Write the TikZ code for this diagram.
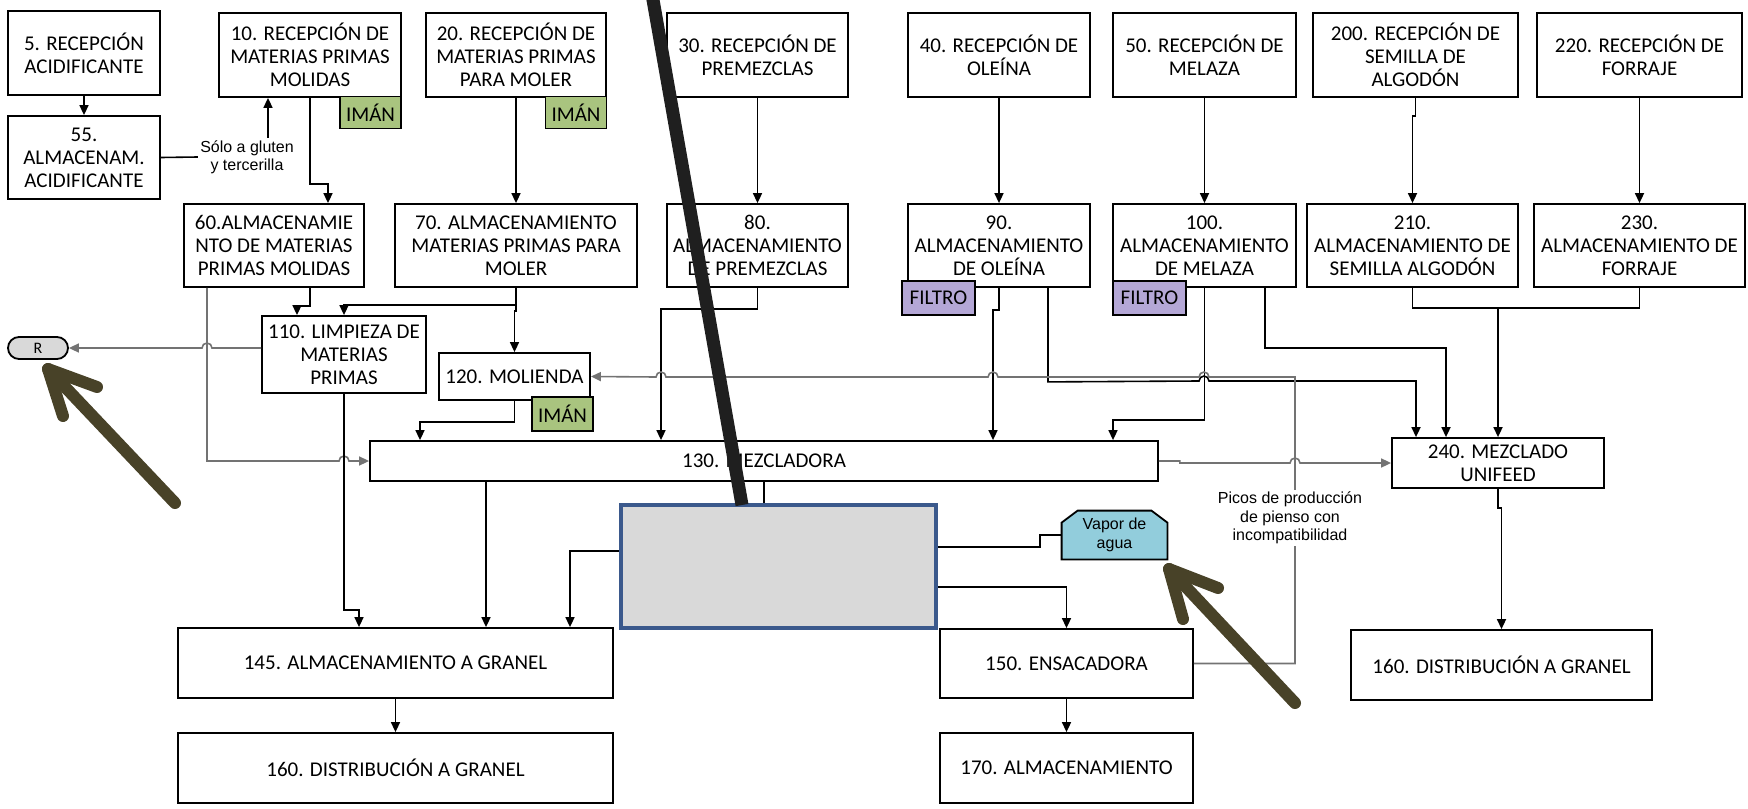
\documentclass[tikz,border=0pt]{standalone}
\usepackage{fontspec}
\setmainfont{Carlito}
\newfontfamily\arial{Liberation Sans}
\usetikzlibrary{arrows.meta,backgrounds}

\definecolor{verdeiman}{RGB}{169,196,127}
\definecolor{lilafiltro}{RGB}{180,167,214}
\definecolor{azulvapor}{RGB}{146,205,220}
\definecolor{grisclaro}{RGB}{217,217,217}
\definecolor{azulborde}{RGB}{59,89,140}
\definecolor{oliva}{RGB}{72,66,40}

\tikzset{
  caja/.style={draw, line width=0.9pt, align=center, inner sep=0pt,
    font=\fontsize{10.5}{11.5}\selectfont},
  caja alta/.style={caja, minimum height=42pt},
  iman/.style={caja, fill=verdeiman, minimum width=30.5pt, minimum height=16pt},
  filtro/.style={caja, fill=lilafiltro, minimum width=36.5pt, minimum height=17pt},
  flecha/.style={draw, line width=0.8pt, -{Triangle[length=5pt,width=4.5pt]}},
  linea/.style={draw, line width=0.8pt},
  linea gris/.style={draw=black!55},
  nota/.style={font=\arial\fontsize{8}{9.2}\selectfont, align=center, fill=white, inner sep=1pt},
  vapor texto/.style={minimum width=52.5pt, minimum height=24pt, inner sep=0pt, align=center,
    font=\arial\fontsize{8}{9.2}\selectfont},
  trazo oliva/.style={oliva, line width=6pt, line cap=round, line join=round},
}

\begin{document}
\begin{tikzpicture}[x=0.5pt, y=-0.5pt]
    \useasboundingbox (0,0) rectangle (1748,808);

    % Recepciones
    \node[caja alta, minimum width=76pt] (b5) at (84,53) {5. RECEPCIÓN\\ACIDIFICANTE};
    \node[caja, minimum width=76pt, minimum height=41.5pt] (b55) at (84,157.5) {55.\\ALMACENAM.\\ACIDIFICANTE};
    \node[caja alta, minimum width=91pt] (b10) at (310,55) {10. RECEPCIÓN DE\\MATERIAS PRIMAS\\MOLIDAS};
    \node[caja alta, minimum width=90pt] (b20) at (516,55) {20. RECEPCIÓN DE\\MATERIAS PRIMAS\\PARA MOLER};
    \node[caja alta, minimum width=90.5pt] (b30) at (757.5,55) {30. RECEPCIÓN DE\\PREMEZCLAS};
    \node[caja alta, minimum width=91pt] (b40) at (999,55) {40. RECEPCIÓN DE\\OLEÍNA};
    \node[caja alta, minimum width=91.5pt] (b50) at (1204.5,55) {50. RECEPCIÓN DE\\MELAZA};
    \node[caja alta, minimum width=102.5pt] (b200) at (1415.5,55) {200. RECEPCIÓN DE\\SEMILLA DE\\ALGODÓN};
    \node[caja alta, minimum width=102.5pt] (b220) at (1639.5,55) {220. RECEPCIÓN DE\\FORRAJE};
    \node[iman] (iman10) at (370.5,112.5) {IMÁN};
    \node[iman] (iman20) at (576,112.5) {IMÁN};

    % Almacenamientos
    \node[caja, minimum width=90pt, minimum height=41.5pt] (b60) at (274,245.5) {60.ALMACENAMIE\\NTO DE MATERIAS\\PRIMAS MOLIDAS};
    \node[caja, minimum width=121pt, minimum height=41.5pt] (b70) at (516,245.5) {70. ALMACENAMIENTO\\MATERIAS PRIMAS PARA\\MOLER};
    \node[caja, minimum width=90.5pt, minimum height=41.5pt] (b80) at (757.5,245.5) {80.\\ALMACENAMIENTO\\DE PREMEZCLAS};
    \node[caja, minimum width=91pt, minimum height=41.5pt] (b90) at (999,245.5) {90.\\ALMACENAMIENTO\\DE OLEÍNA};
    \node[caja, minimum width=91.5pt, minimum height=41.5pt] (b100) at (1204.5,245.5) {100.\\ALMACENAMIENTO\\DE MELAZA};
    \node[caja, minimum width=105.5pt, minimum height=41.5pt] (b210) at (1412.5,245.5) {210.\\ALMACENAMIENTO DE\\SEMILLA ALGODÓN};
    \node[caja, minimum width=105.5pt, minimum height=41.5pt] (b230) at (1639.5,245.5) {230.\\ALMACENAMIENTO DE\\FORRAJE};
    \node[filtro] (filtro90) at (938.5,298) {FILTRO};
    \node[filtro] (filtro100) at (1149.5,298) {FILTRO};

    % Proceso
    \node[caja, fill=grisclaro, rounded corners=5.5pt, minimum width=30pt, minimum height=11pt,
      font=\fontsize{8}{9}\selectfont] (R) at (38,348) {R};
    \node[caja, minimum width=82pt, minimum height=38.5pt] (b110) at (344,354.5) {110. LIMPIEZA DE\\MATERIAS\\PRIMAS};
    \node[caja, minimum width=75.5pt, minimum height=23.5pt] (b120) at (514.5,376.5) {120. MOLIENDA};
    \node[iman, minimum height=17pt] (iman120) at (562.5,414) {IMÁN};
    \node[caja, minimum width=394pt, minimum height=20pt] (b130) at (764,461) {130. MEZCLADORA};
    \node[caja, minimum width=106pt, minimum height=25pt] (b240) at (1498,463) {240. MEZCLADO\\UNIFEED};
    \node[draw=azulborde, line width=2pt, fill=grisclaro, minimum width=157.5pt, minimum height=61.5pt] (tapa) at (778.5,566.5) {};
    \node[vapor texto] (vapor) at (1114.5,535) {Vapor de\\agua};
    \begin{scope}[on background layer]
      \draw[line width=0.9pt, fill=azulvapor] (vapor.south west) -- ([yshift=-6pt]vapor.north west)
        -- ([xshift=8pt]vapor.north west) -- ([xshift=-8pt]vapor.north east)
        -- ([yshift=-6pt]vapor.north east) -- (vapor.south east) -- cycle;
    \end{scope}

    % Salidas
    \node[caja, minimum width=217.5pt, minimum height=35pt] (b145) at (395.5,663) {145. ALMACENAMIENTO A GRANEL};
    \node[caja, minimum width=217.5pt, minimum height=35pt] (b160a) at (395.5,768) {160. DISTRIBUCIÓN A GRANEL};
    \node[caja, minimum width=126.5pt, minimum height=34.5pt] (b150) at (1066.5,663.5) {150. ENSACADORA};
    \node[caja, minimum width=126.5pt, minimum height=35pt] (b170) at (1066.5,768) {170. ALMACENAMIENTO};
    \node[caja, minimum width=150.5pt, minimum height=35pt] (b160b) at (1501.5,665) {160. DISTRIBUCIÓN A GRANEL};

    % Flechas de arriba
    \draw[flecha] (b5) -- (b55);
    \node[nota] (gluten) at (247,157) {Sólo a gluten\\y tercerilla};
    \draw[linea] (b55.east) -- (gluten.west);
    \draw[flecha] ([xshift=10.5pt]gluten.north) -- ([xshift=10.5pt]gluten.north |- b10.south);
    \draw[flecha] (b10.south) -- ++(0,86) -| ([xshift=27pt]b60.north);
    \draw[flecha] (b20) -- (b70);
    \draw[flecha] (b30) -- (b80);
    \draw[flecha] (b40) -- (b90);
    \draw[flecha] (b50) -- (b100);
    \draw[flecha] (b200.south) -- ++(0,18) -| (b210.north);
    \draw[flecha] (b220) -- (b230);

    % Hacia limpieza, molienda y mezcladora
    \draw[flecha] ([xshift=18pt]b60.south) -- ++(0,18) -| ([xshift=-23.5pt]b110.north);
    \draw[flecha] (b70.south) -- ++(0,17) -| (b110.north);
    \draw[flecha] (b70.south) -- ++(0,23) -| (b120.north);
    \draw[flecha, linea gris] ([xshift=-33.5pt]b60.south) |- (339,461)
      arc[start angle=180, end angle=360, radius=5] -- (b130.west);
    \draw[flecha, linea gris] (b110.west |- R.east) -- (212,348)
      arc[start angle=0, end angle=-180, radius=5] -- (R.east);
    \draw[flecha] (b120.south) -- ++(0,21) -| ([xshift=-172pt]b130.north);
    \draw[flecha] (b80.south) -- ++(0,21) -| ([xshift=-51.5pt]b130.north);
    \draw[flecha] (b90.south) -- ++(0,22) -- ++(-6,0) -- ([xshift=114.5pt]b130.north);
    \draw[flecha] (b100.south) -- ++(0,132) -| ([xshift=174.5pt]b130.north);

    % Hacia unifeed
    \draw[flecha] ([xshift=24.5pt]b90.south) -- ++(0,94) -- (1199,381)
      arc[start angle=180, end angle=360, radius=5] -| ([xshift=-41pt]b240.north);
    \draw[flecha] ([xshift=30.25pt]b100.south) -- ++(0,60) -| ([xshift=-26pt]b240.north);
    \coordinate (union) at (1498,308);
    \draw[linea] (b210.south) |- (union) -| (b230.south);
    \draw[flecha] (union) -- (b240.north);
    \draw[flecha, linea gris] (b130.east) -- ++(21,0) -- ++(0,2) -- (1290,463)
      arc[start angle=180, end angle=360, radius=5] -- (b240.west);
    \draw[flecha] (b240.south) -- ++(0,19) -| (b160b.north);

    % Retorno de ensacadora a molienda
    \draw[flecha, linea gris] (b150.east) -| (1295,377) -- (1209,377)
      arc[start angle=0, end angle=-180, radius=5] -- (998,377)
      arc[start angle=0, end angle=-180, radius=5] -- (666,377)
      arc[start angle=0, end angle=-180, radius=5] -- (b120.east);
    \node[nota] (picos) at (1290,518) {Picos de producción\\de pienso con\\incompatibilidad};

    % Salidas
    \draw[flecha] (b110.south) -- ++(0,216) -| ([xshift=-18.25pt]b145.north);
    \draw[flecha] ([xshift=-139pt]b130.south) -- ([xshift=-139pt]b130.south |- b145.north);
    \draw[linea] (b130.south) -- (b130.south |- tapa.north);
    \draw[flecha] ([yshift=7.75pt]tapa.west) -| ([xshift=87.25pt]b145.north);
    \draw[linea] ([yshift=9.75pt]tapa.east) -- ++(102,0) |- (vapor.west);
    \draw[flecha] ([yshift=-10.25pt]tapa.east) -| (b150.north);
    \draw[flecha] (b145) -- (b160a);
    \draw[flecha] (b150) -- (b170);

    % Marcas encima
    \draw[line width=6.5pt, black!88] (649.5,-20) -- (742,505);
    \draw[trazo oliva] (175,503) -- (48,369);
    \draw[trazo oliva] (63,416) -- (48,369) -- (97,387);
    \draw[trazo oliva] (1295,703) -- (1169,569);
    \draw[trazo oliva] (1183,619) -- (1169,569) -- (1218,588);
\end{tikzpicture}
\end{document}
